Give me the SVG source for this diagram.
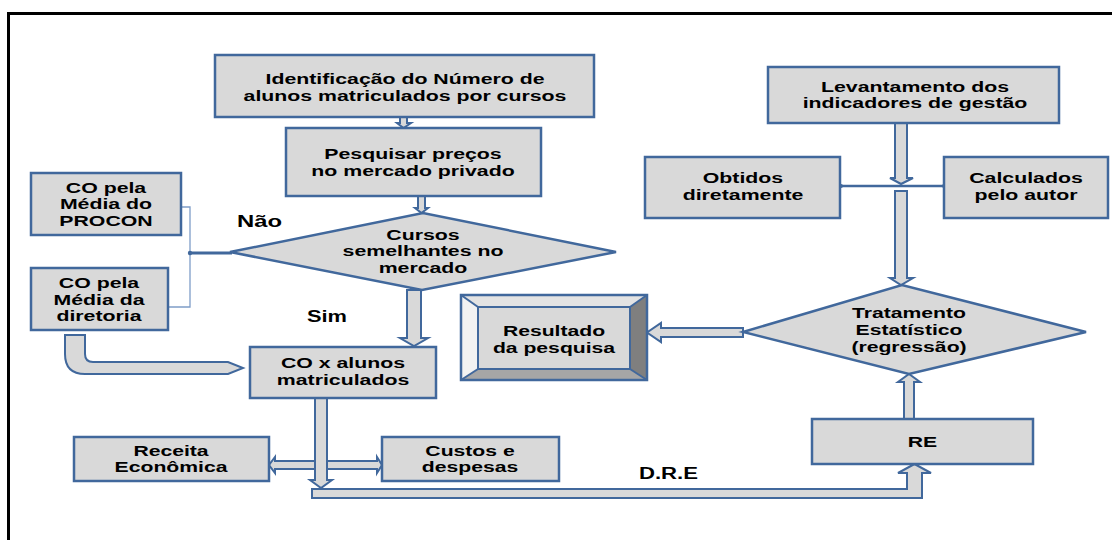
<svg xmlns="http://www.w3.org/2000/svg" width="1112" height="540" viewBox="0 0 1112 540">
<style>
.box{fill:#d9d9d9;stroke:#41689c;stroke-width:2.5}
.arr{fill:#d9d9d9;stroke:#41689c;stroke-width:2;stroke-linejoin:miter}
.t{font-family:"Liberation Sans",Arial,sans-serif;font-weight:bold;fill:#000;text-anchor:middle}
.a{font-size:15.5px}
.b{font-size:14.5px}
.l{font-family:"Liberation Sans",Arial,sans-serif;font-weight:bold;font-size:16px;fill:#000}
</style>
<rect width="1112" height="540" fill="#fff"/>
<path d="M8.5,540 V13.5 H1112" fill="none" stroke="#000" stroke-width="3"/>

<g id="connectors">
  <polyline points="163,207 190,207 190,307 163,307" fill="none" stroke="#7f9dc8" stroke-width="1.3"/>
  <line x1="190" y1="253" x2="232" y2="253" stroke="#41689c" stroke-width="3"/>
  <circle cx="190" cy="253" r="2.2" fill="#41689c"/>
  <line x1="840" y1="186" x2="944" y2="186" stroke="#41689c" stroke-width="2.5"/>
  <circle cx="841" cy="186" r="2" fill="#41689c"/>
  <circle cx="944" cy="186" r="2" fill="#41689c"/>
  <polygon class="arr" points="400,117 407,117 407,123 411,123 403.5,128 397,123 400,123"/>
  <polygon class="arr" points="418,196 425,196 425,208 428,208 421.5,213 415,208 418,208"/>
  <polygon class="arr" points="407,290 421,290 421,338 428,338 414,346 400,338 407,338"/>
  <path class="arr" d="M65,335 V354 Q65,374 85,374 H228 L243,368 L228,362 H93 Q85,362 85,354 V335 Z"/>
  <polygon class="arr" points="275,461 377,461 377,457 382,465 377,473 377,469 275,469 275,473 269,465 275,457"/>
  <polygon class="arr" points="315,398 327,398 327,480 332,480 321,488 310,480 315,480"/>
  <path class="arr" d="M312,489 H907 V473 H898 L914.5,464 L931,473 H922 V498 H312 Z"/>
  <polygon class="arr" points="904,419 904,382 898,382 909,374 920,382 914,382 914,419"/>
  <polygon class="arr" points="743,328 661,328 661,323 647,332.5 661,342 661,337 743,337"/>
  <polygon class="arr" points="895,123 907,123 907,178 913,178 901,184 890,178 895,178"/>
  <polygon class="arr" points="895,191 907,191 907,278 913,278 901,285 890,278 895,278"/>
</g>

<g id="n-identificacao">
  <rect class="box" x="215" y="55" width="379" height="62"/>
  <text class="t a" transform="translate(405 0) scale(1.374 1)"><tspan x="0" y="84">Identificação do Número de</tspan><tspan x="0" y="101">alunos matriculados por cursos</tspan></text>
</g>
<g id="n-pesquisar">
  <rect class="box" x="286" y="128" width="255" height="68"/>
  <text class="t a" transform="translate(413 0) scale(1.374 1)"><tspan x="0" y="159">Pesquisar preços</tspan><tspan x="0" y="176">no mercado privado</tspan></text>
</g>
<g id="n-cursos">
  <polygon class="box" points="230,252 423,213 616,252 422,290"/>
  <text class="t a" transform="translate(423 0) scale(1.374 1)"><tspan x="0" y="240">Cursos</tspan><tspan x="0" y="256">semelhantes no</tspan><tspan x="0" y="273">mercado</tspan></text>
</g>
<g id="n-procon">
  <rect class="box" x="31" y="173" width="150" height="62"/>
  <text class="t a" transform="translate(106 0) scale(1.374 1)"><tspan x="0" y="193">CO pela</tspan><tspan x="0" y="209">Média do</tspan><tspan x="0" y="226">PROCON</tspan></text>
</g>
<g id="n-diretoria">
  <rect class="box" x="31" y="268" width="137" height="62"/>
  <text class="t a" transform="translate(99 0) scale(1.374 1)"><tspan x="0" y="288">CO pela</tspan><tspan x="0" y="305">Média da</tspan><tspan x="0" y="321">diretoria</tspan></text>
</g>
<g id="n-coalunos">
  <rect class="box" x="250" y="347" width="186" height="51"/>
  <text class="t a" transform="translate(343 0) scale(1.374 1)"><tspan x="0" y="368">CO x alunos</tspan><tspan x="0" y="385">matriculados</tspan></text>
</g>
<g id="n-receita">
  <rect class="box" x="74" y="437" width="195" height="44"/>
  <text class="t b" transform="translate(171 0) scale(1.46 1)"><tspan x="0" y="456">Receita</tspan><tspan x="0" y="472">Econômica</tspan></text>
</g>
<g id="n-custos">
  <rect class="box" x="382" y="437" width="177" height="44"/>
  <text class="t b" transform="translate(470 0) scale(1.46 1)"><tspan x="0" y="456">Custos e</tspan><tspan x="0" y="472">despesas</tspan></text>
</g>
<g id="n-levantamento">
  <rect class="box" x="768" y="67" width="291" height="56"/>
  <text class="t a" transform="translate(915 0) scale(1.374 1)"><tspan x="0" y="92">Levantamento dos</tspan><tspan x="0" y="108">indicadores de gestão</tspan></text>
</g>
<g id="n-obtidos">
  <rect class="box" x="645" y="157" width="195" height="61"/>
  <text class="t a" transform="translate(743 0) scale(1.374 1)"><tspan x="0" y="183">Obtidos</tspan><tspan x="0" y="200">diretamente</tspan></text>
</g>
<g id="n-calculados">
  <rect class="box" x="944" y="157" width="164" height="61"/>
  <text class="t a" transform="translate(1026 0) scale(1.374 1)"><tspan x="0" y="183">Calculados</tspan><tspan x="0" y="200">pelo autor</tspan></text>
</g>
<g id="n-tratamento">
  <polygon class="box" points="743,332 902,285 1086,332 909,374"/>
  <text class="t b" transform="translate(909 0) scale(1.46 1)"><tspan x="0" y="318">Tratamento</tspan><tspan x="0" y="335">Estatístico</tspan><tspan x="0" y="352">(regressão)</tspan></text>
</g>
<g id="n-resultado">
  <rect x="461" y="295" width="186" height="85" fill="#d9d9d9"/>
  <polygon points="461,295 647,295 630,307 478,307" fill="#e3e3e3"/>
  <polygon points="461,295 478,307 478,369 461,380" fill="#f2f2f2"/>
  <polygon points="647,295 647,380 630,369 630,307" fill="#7f7f7f"/>
  <polygon points="461,380 478,369 630,369 647,380" fill="#a6a6a6"/>
  <rect x="478" y="307" width="152" height="62" fill="#d9d9d9" stroke="#41689c" stroke-width="2"/>
  <g stroke="#41689c" stroke-width="2"><line x1="461" y1="295" x2="478" y2="307"/><line x1="647" y1="295" x2="630" y2="307"/><line x1="461" y1="380" x2="478" y2="369"/><line x1="647" y1="380" x2="630" y2="369"/></g>
  <rect x="461" y="295" width="186" height="85" fill="none" stroke="#41689c" stroke-width="2.5"/>
  <text class="t b" transform="translate(554 0) scale(1.46 1)"><tspan x="0" y="336">Resultado</tspan><tspan x="0" y="353">da pesquisa</tspan></text>
</g>
<g id="n-re">
  <rect class="box" x="812" y="419" width="221" height="45"/>
  <text class="t b" transform="translate(922.5 0) scale(1.46 1)"><tspan x="0" y="447">RE</tspan></text>
</g>
<g id="labels">
  <text class="l" x="237" y="227" textLength="45" lengthAdjust="spacingAndGlyphs">Não</text>
  <text class="l" x="307" y="322" textLength="40" lengthAdjust="spacingAndGlyphs">Sim</text>
  <text class="l" x="639" y="479" textLength="59" lengthAdjust="spacingAndGlyphs">D.R.E</text>
</g>
</svg>
